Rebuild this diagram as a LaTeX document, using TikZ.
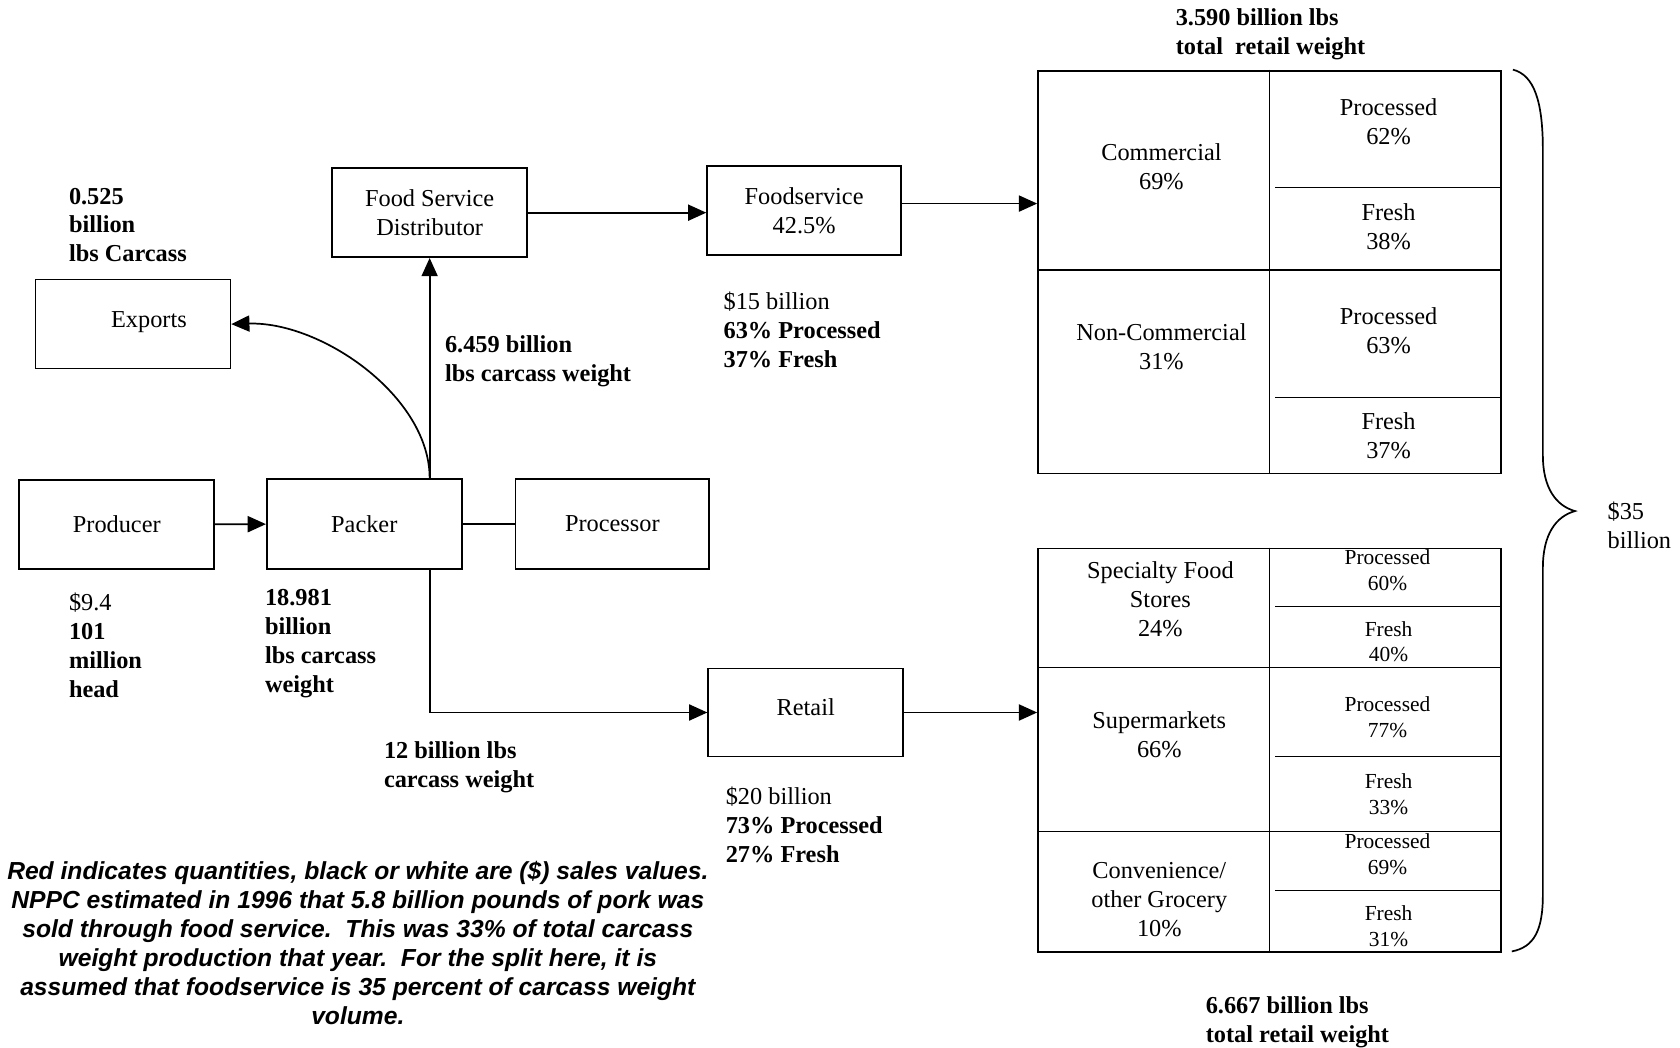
\documentclass[tikz,border=0pt]{standalone}
\usepackage{fontspec}
\setmainfont{Liberation Serif}
\newfontfamily\notefont{Liberation Sans}
\usetikzlibrary{arrows.meta,calc}
\tikzset{
  box/.style={draw, line width=0.8pt, inner sep=0pt, align=center, font=\fontsize{11.35}{13.5}\selectfont},
  lbl/.style={inner sep=0pt, anchor=west, align=left, font=\fontsize{11.35}{13.5}\selectfont},
  cell/.style={inner sep=0pt, align=center, font=\fontsize{11.35}{13.5}\selectfont},
  smallcell/.style={inner sep=0pt, align=center, font=\fontsize{10}{12}\selectfont},
  arr/.style={line width=0.8pt, -{Triangle[length=8.5pt,width=7.5pt]}},
  conn/.style={line width=0.8pt},
  tab/.style={draw, line width=0.9pt, inner sep=0pt, anchor=north west, minimum width=216pt},
  inner/.style={line width=0.7pt},
}
\begin{document}
\begin{tikzpicture}[x=0.5pt,y=-0.5pt]
\useasboundingbox (0,0) rectangle (1568,978);

% boxes
\node[box, minimum width=91pt, minimum height=41.5pt] (producer) at (109,489.5) {Producer};
\node[box, minimum width=91pt, minimum height=42pt] (packer) at (340,489) {Packer};
\node[box, minimum width=90.5pt, minimum height=42pt] (processor) at (571.5,489) {Processor};
\node[box, minimum width=91pt, minimum height=41.5pt] (exports) at (124,302.5) {\hspace*{15pt}Exports\\[-9pt]};
\node[box, minimum width=91pt, minimum height=41.5pt] (fsd) at (401,198.5) {Food Service\\Distributor};
\node[box, minimum width=90.5pt, minimum height=41.5pt] (fs) at (750.5,196.5) {Foodservice\\42.5\%};
\node[box, minimum width=91pt, minimum height=41pt] (retail) at (752,665) {Retail\\[-8pt]};

% tables
\node[tab, minimum height=188pt] (fstab) at (968,65) {};
\node[tab, minimum height=188.5pt] (rttab) at (968,511) {};

\draw[inner] (fstab.north) -- (fstab.south);
\draw[inner] (968,252) -- (1400,252);
\draw[inner] (1190,175) -- (1400,175);
\draw[inner] (1190,371) -- (1400,371);

\draw[inner] (rttab.north) -- (rttab.south);
\draw[inner] (968,623) -- (1400,623);
\draw[inner] (968,776) -- (1400,776);
\draw[inner] (1190,566) -- (1400,566);
\draw[inner] (1190,706) -- (1400,706);
\draw[inner] (1190,831) -- (1400,831);

% upper table texts
\node[cell] (commercial) at (1084,155.5) {Commercial\\69\%};
\node[cell] (c1p) at (1296,113.5) {Processed\\62\%};
\node[cell] (c1f) at (1296,211.5) {Fresh\\38\%};
\node[cell] (noncomm) at (1084,323.5) {Non-Commercial\\31\%};
\node[cell] (c2p) at (1296,308.5) {Processed\\63\%};
\node[cell] (c2f) at (1296,406.5) {Fresh\\37\%};

% lower table texts
\node[cell] (spec) at (1083,559) {Specialty Food\\Stores\\24\%};
\node[smallcell] (r1p) at (1295,532) {Processed\\60\%};
\node[smallcell] (r1f) at (1296,599) {Fresh\\40\%};
\node[cell] (super) at (1082,685.5) {Supermarkets\\66\%};
\node[smallcell] (r2p) at (1295,669.5) {Processed\\77\%};
\node[smallcell] (r2f) at (1296,741.5) {Fresh\\33\%};
\node[cell] (conv) at (1082,839.5) {Convenience/\\other Grocery\\10\%};
\node[smallcell] (r3p) at (1295,797.5) {Processed\\69\%};
\node[smallcell] (r3f) at (1296,864.5) {Fresh\\31\%};

% brace
\draw[line width=0.8pt] (1412,65) .. controls (1432,70) and (1440,95) .. (1440,140)
  -- (1440,425) .. controls (1440,455) and (1452,472) .. (1470,477)
  .. controls (1452,482) and (1440,499) .. (1440,530)
  -- (1440,835) .. controls (1440,868) and (1432,884) .. (1411,888);
\node[lbl] (total) at (1500,490) {\$35\\billion};

% labels
\node[lbl] (l0525) at (64,210) {\textbf{0.525}\\\textbf{billion}\\\textbf{lbs Carcass}};
\node[lbl] (l6459) at (415,337) {\textbf{6.459 billion}\\\textbf{lbs carcass weight}};
\node[lbl] (l15) at (675,308) {\$15 billion\\\textbf{63\% Processed}\\\textbf{37\% Fresh}};
\node[lbl] (l94) at (64,602.5) {\$9.4\\\textbf{101}\\\textbf{million}\\\textbf{head}};
\node[lbl] (l18981) at (247,601) {\textbf{18.981}\\\textbf{billion}\\\textbf{lbs carcass}\\\textbf{weight}};
\node[lbl] (l12) at (358,716) {\textbf{12 billion lbs}\\\textbf{carcass weight}};
\node[lbl] (l20) at (677,770) {\$20 billion\\\textbf{73\% Processed}\\\textbf{27\% Fresh}};
\node[lbl] (l3590) at (1097,32) {\textbf{3.590 billion lbs}\\\textbf{total\ \ retail weight}};
\node[lbl] (l6667) at (1125,954) {\textbf{6.667 billion lbs}\\\textbf{total retail weight}};

\node[inner sep=0pt, align=center, font=\notefont\bfseries\itshape\fontsize{11.5}{13.5}\selectfont] (note) at (334,880)
 {Red indicates quantities, black or white are (\$) sales values.\\
  NPPC estimated in 1996 that 5.8 billion pounds of pork was\\
  sold through food service.\ \ This was 33\% of total carcass\\
  weight production that year.\ \ For the split here, it is\\
  assumed that foodservice is 35 percent of carcass weight\\
  volume.};

% connectors
\draw[arr] (producer) -- (packer);
\draw[conn] (packer) -- (processor);
\coordinate (ptop) at (packer.north -| fsd.south);
\coordinate (pbot) at (packer.south -| fsd.south);
\draw[arr] (ptop) -- (fsd.south);
\draw[arr] (ptop) .. controls (401,370) and (300,300) .. (exports.east);
\draw[arr] (fsd.east) -- (fsd.east -| fs.west);
\draw[arr] ([yshift=3.25pt]fs.east) -- ([yshift=3.25pt]fs.east -| fstab.west);
\draw[arr] (pbot) |- (retail.west);
\draw[arr] (retail.east) -- (retail.east -| rttab.west);
\end{tikzpicture}
\end{document}
